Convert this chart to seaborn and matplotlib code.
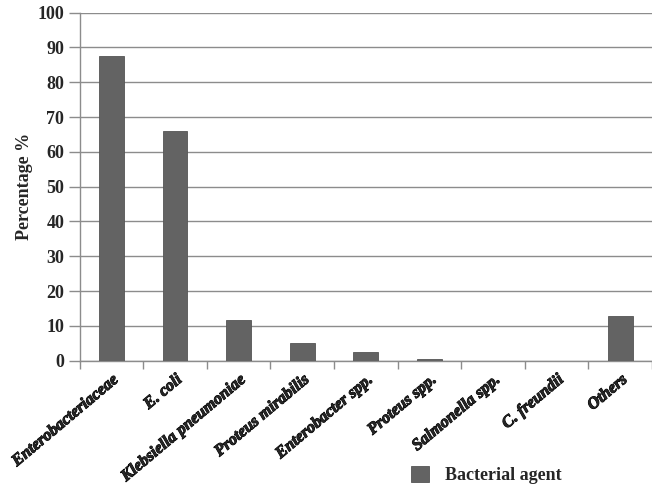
import pandas as pd
import numpy as np
import matplotlib.pyplot as plt
import matplotlib.patheffects as pe
import seaborn as sns
from matplotlib.font_manager import FontProperties

sns.set_style("white")
plt.rcParams['font.family'] = ['Liberation Serif', 'DejaVu Serif']
plt.rcParams['xtick.bottom'] = True
plt.rcParams['ytick.left'] = True

agents = ['Enterobacteriaceae', 'E. coli', 'Klebsiella pneumoniae', 'Proteus mirabilis',
          'Enterobacter spp.', 'Proteus spp.', 'Salmonella spp.', 'C. freundii', 'Others']
percent = [87.5, 66.0, 11.6, 5.2, 2.6, 0.5, 0.0, 0.0, 12.8]

df = pd.DataFrame({'Agent': agents, 'Percent': percent, 'Series': 'Bacterial agent'})

fig = plt.figure(figsize=(6.52, 4.86), dpi=100)
ax = fig.add_axes([0.122, 0.258, 0.878, 0.716])

sns.barplot(data=df, x='Agent', y='Percent', hue='Series', palette=['#636363'],
            width=0.39, edgecolor='#555555', linewidth=0.6, ax=ax, zorder=3)

ax.set_ylim(0, 100)
ax.set_yticks(np.arange(0, 101, 10))
ax.set_xlim(-0.5, len(agents) - 0.5)
ax.grid(True, axis='y', color='#8c8c8c', linewidth=1.0, zorder=0)
ax.set_axisbelow(True)
for s in ['top', 'right']:
    ax.spines[s].set_visible(False)
for s in ['left', 'bottom']:
    ax.spines[s].set_color('#8c8c8c')
    ax.spines[s].set_linewidth(1.0)

xfont = FontProperties(family='Liberation Serif', weight='bold', style='italic', size=12)
ax.set_xticks(np.arange(len(agents)))
ax.set_xticklabels(agents, rotation=40, ha='right', rotation_mode='anchor',
                   fontproperties=xfont)
for lbl in ax.get_xticklabels():
    lbl.set_path_effects([pe.withStroke(linewidth=0.7, foreground='black')])
ax.tick_params(axis='x', which='major', length=0, pad=8, bottom=True)
ax.set_xticks(np.arange(-0.5, len(agents), 1.0), minor=True)
ax.tick_params(axis='x', which='minor', direction='out', length=6, color='#8c8c8c',
               width=1.0, bottom=True)
ax.tick_params(axis='y', which='major', direction='out', left=True, length=8,
               color='#8c8c8c', width=1.0, labelsize=13, pad=3)
for lbl in ax.get_yticklabels():
    lbl.set_fontweight('bold')

ax.set_xlabel('')
ax.set_ylabel('Percentage %', fontsize=13, fontweight='bold', labelpad=3)

ax.legend(loc='lower left', bbox_to_anchor=(0.605, -0.03), bbox_transform=fig.transFigure,
          frameon=False, prop={'family': 'Liberation Serif', 'weight': 'bold', 'size': 13},
          handlelength=1.0, handleheight=1.0, handletextpad=0.9)

fig.savefig('out.png', dpi=100)
